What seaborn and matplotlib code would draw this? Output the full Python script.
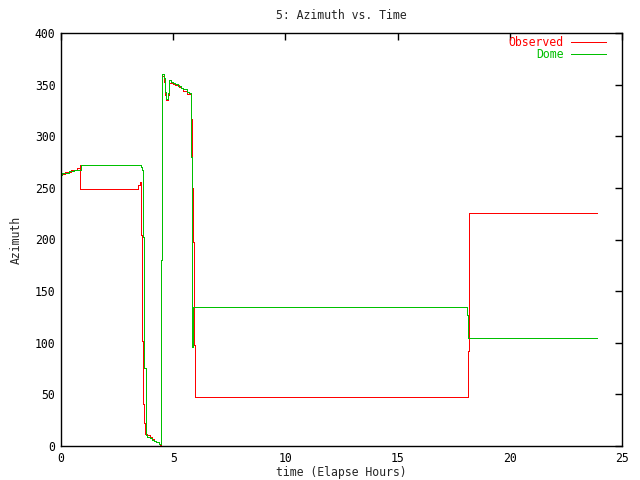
import matplotlib
matplotlib.use("Agg")
import matplotlib.pyplot as plt
import seaborn as sns

# Observed azimuth (step samples, hours / degrees)
obs_t = [0, 0.2, 0.45, 0.7, 0.83, 0.85, 3.45, 3.52, 3.56, 3.62, 3.67, 3.71, 3.76,
         3.85, 3.95, 4.05, 4.15, 4.25, 4.35, 4.41, 4.44, 4.49, 4.57, 4.62, 4.68,
         4.75, 4.82, 4.9, 5.0, 5.1, 5.25, 5.35, 5.45, 5.6, 5.7, 5.78, 5.82, 5.86,
         5.9, 5.94, 5.98, 18.12, 18.17, 18.2, 23.87]
obs_az = [263.4, 265.7, 267.3, 269, 272, 248.6, 252.8, 256, 204, 102, 41, 22, 12,
          11, 9, 7, 5, 4, 2, 0.5, 180, 358, 353, 340, 335,
          340, 352, 352, 351, 350, 348, 347, 344, 341, 340.5, 317, 271, 250,
          198, 98, 47, 92, 181, 226, 226]

# Dome azimuth
dome_t = [0, 0.05, 0.35, 0.6, 0.89, 3.56, 3.62, 3.67, 3.71, 3.77, 3.85, 3.95,
          4.05, 4.15, 4.25, 4.35, 4.44, 4.49, 4.59, 4.62, 4.66, 4.75, 4.82, 4.9,
          5.0, 5.1, 5.23, 5.35, 5.45, 5.6, 5.7, 5.78, 5.82, 5.85, 5.9, 18.1,
          18.15, 18.2, 23.87]
dome_az = [262.5, 264.7, 266.3, 267.3, 272, 270, 267, 202, 76, 10.6, 9, 8,
           6, 5, 3.5, 2, 180, 360, 356, 343, 336, 342, 354, 353,
           352, 351, 349, 347, 345.5, 343, 342, 280, 157, 96, 134.6, 127,
           105, 104.3, 104.3]

sns.set_style("white")
plt.rcParams['font.family'] = ['DejaVu Sans Mono']
fs = 8.3
lw = 0.72  # one pixel at 100 dpi

fig = plt.figure(figsize=(6.4, 4.8), dpi=100)
ax = fig.add_axes([61 / 640, 34 / 480, 561 / 640, 413 / 480])

sns.lineplot(x=obs_t, y=obs_az, ax=ax, color="#ff0000", lw=lw, sort=False,
             estimator=None, drawstyle="steps-post", label="Observed",
             antialiased=False)
sns.lineplot(x=dome_t, y=dome_az, ax=ax, color="#00c000", lw=lw, sort=False,
             estimator=None, drawstyle="steps-post", label="Dome",
             antialiased=False)

ax.set_xlim(0, 25)
ax.set_ylim(0, 400)
ax.set_xticks(range(0, 26, 5))
ax.set_yticks(range(0, 401, 50))
ax.tick_params(direction="in", length=5, width=1, top=True, right=True,
               labelsize=fs, colors="black", pad=4)
for s in ax.spines.values():
    s.set_color("black")
    s.set_linewidth(1)

ax.set_title("5: Azimuth vs. Time", fontsize=fs, pad=10)
ax.set_xlabel("time (Elapse Hours)", fontsize=fs, labelpad=1)
ax.set_ylabel("Azimuth", fontsize=fs, labelpad=9)

leg = ax.legend(loc="upper right", bbox_to_anchor=(0.99, 1.018), frameon=False,
                markerfirst=False, labelcolor="linecolor", fontsize=fs,
                handlelength=3.0, handletextpad=0.7, labelspacing=-0.08)
for h in leg.get_lines():
    h.set_antialiased(False)
    h.set_linewidth(lw)

fig.savefig("out.png", dpi=100)
